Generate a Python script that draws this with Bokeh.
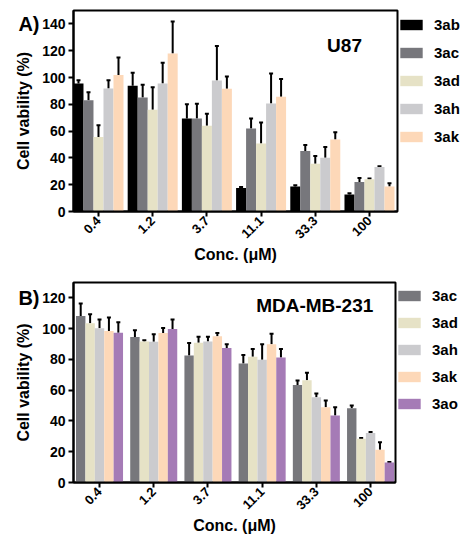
import numpy as np
from bokeh.plotting import figure
from bokeh.models import (ColumnDataSource, Range1d, FixedTicker, Whisker, TeeHead,
                          Legend, LegendItem, Label, LinearAxis)
from bokeh.layouts import column
from bokeh.embed import file_html
from bokeh.resources import INLINE

# ---------------- data ----------------
conc_labels = ["0.4", "1.2", "3.7", "11.1", "33.3", "100"]

# Panel A (U87)
a_series = ["3ab", "3ac", "3ad", "3ah", "3ak"]
a_3ab = [95.6, 93.8, 69.4, 17.5, 18.7, 12.7]
a_3ac = [83.0, 85.0, 69.4, 61.9, 45.2, 22.0]
a_3ad = [55.6, 76.0, 64.0, 50.7, 35.7, 24.0]
a_3ah = [91.8, 95.6, 97.8, 80.6, 40.2, 33.2]
a_3ak = [101.8, 118.0, 91.6, 85.6, 53.7, 18.7]
a_3ab_sd = [2.4, 9.8, 10.6, 0.7, 0.8, 1.0]
a_3ac_sd = [6.0, 9.6, 11.0, 7.5, 4.5, 3.0]
a_3ad_sd = [8.8, 16.8, 8.9, 15.7, 5.7, 0.7]
a_3ah_sd = [6.2, 15.4, 25.7, 22.4, 8.0, 0.5]
a_3ak_sd = [13.2, 23.7, 9.2, 13.2, 5.4, 2.3]

# Panel B (MDA-MB-231)
b_series = ["3ac", "3ad", "3ah", "3ak", "3ao"]
b_3ac = [108.3, 94.6, 82.6, 77.4, 63.3, 48.3]
b_3ad = [103.5, 91.7, 90.9, 81.7, 66.5, 28.5]
b_3ah = [100.2, 91.5, 91.7, 79.8, 55.4, 32.2]
b_3ak = [98.5, 97.2, 95.0, 89.8, 48.9, 21.3]
b_3ao = [97.4, 99.8, 87.4, 81.3, 43.5, 13.0]
b_3ac_sd = [8.0, 4.4, 8.1, 5.4, 3.0, 1.7]
b_3ad_sd = [5.8, 0.7, 3.9, 5.0, 4.8, 0.4]
b_3ah_sd = [5.8, 4.8, 3.1, 10.0, 2.4, 0.6]
b_3ak_sd = [8.7, 3.2, 2.2, 6.9, 4.4, 4.8]
b_3ao_sd = [6.7, 6.2, 2.4, 5.4, 5.4, 0.3]

colors = {"3ab": "#000000", "3ac": "#77777c", "3ad": "#e6e2c6",
          "3ah": "#cbcbce", "3ak": "#fdd8b8", "3ao": "#a57bb6"}

FONT = "Liberation Sans"


def make_panel(series, means, sds, ymax, yticks, bar_w, xr, frame_w, frame_h,
               min_left, min_top, min_bottom, letter, name, name_xy,
               legend_item_h):
    p = figure(output_backend="svg", toolbar_location=None,
               frame_width=frame_w, frame_height=frame_h,
               x_range=Range1d(*xr), y_range=Range1d(0, ymax),
               min_border_left=min_left, min_border_top=min_top,
               min_border_bottom=min_bottom, min_border_right=0)
    p.background_fill_color = "white"
    p.border_fill_color = "white"
    p.xgrid.visible = False
    p.ygrid.visible = False
    p.outline_line_color = "black"
    p.outline_line_width = 2
    p.outline_line_alpha = 1

    groups = np.arange(1, len(conc_labels) + 1)
    items = []
    n = len(series)
    for i, (s, m, sd) in enumerate(zip(series, means, sds)):
        xs = groups + (i - (n - 1) / 2) * bar_w
        m = np.array(m)
        up = m + np.array(sd)
        src = ColumnDataSource(dict(x=xs, top=m, upper=up))
        r = p.vbar(x="x", top="top", width=bar_w, source=src,
                   fill_color=colors[s], line_color=None)
        items.append(LegendItem(label=s, renderers=[r]))
        w = Whisker(base="x", lower="top", upper="upper", source=src,
                    line_color="black", line_width=2,
                    upper_head=TeeHead(size=4, line_width=2, line_color="black"),
                    lower_head=None)
        p.add_layout(w)

    # axes
    for ax in (p.xaxis[0], p.yaxis[0]):
        ax.axis_line_width = 2
        ax.axis_line_color = "black"
        ax.major_tick_line_width = 2
        ax.major_tick_line_color = "black"
        ax.major_tick_out = 5
        ax.major_tick_in = 0
        ax.minor_tick_line_color = None
        ax.major_label_text_font = FONT
        ax.major_label_text_font_style = "bold"
        ax.major_label_text_font_size = "14px"
        ax.major_label_text_color = "black"
        ax.axis_label_text_font = FONT
        ax.axis_label_text_font_style = "bold"
        ax.axis_label_text_font_size = "16px"
        ax.axis_label_text_color = "black"

    p.yaxis.ticker = FixedTicker(ticks=yticks)
    p.yaxis.major_label_standoff = 3

    # outer left axis: panel letter next to the top tick, plus the axis title
    top_tick = yticks[-1]
    outer = LinearAxis(ticker=FixedTicker(ticks=[top_tick]),
                       major_label_overrides={top_tick: letter},
                       axis_line_color=None, major_tick_line_color=None,
                       minor_tick_line_color=None,
                       major_label_standoff=-6,
                       major_label_text_font=FONT, major_label_text_font_style="bold",
                       major_label_text_font_size="20px", major_label_text_color="black",
                       axis_label="Cell vability (%)", axis_label_standoff=-17,
                       axis_label_text_font=FONT, axis_label_text_font_style="bold",
                       axis_label_text_font_size="16px", axis_label_text_color="black")
    p.add_layout(outer, "left")

    p.xaxis.ticker = FixedTicker(ticks=list(groups))
    p.xaxis.major_label_overrides = {int(g): lab for g, lab in zip(groups, conc_labels)}
    p.xaxis.major_label_orientation = np.pi / 4
    p.xaxis.major_label_text_font_size = "13px"
    p.xaxis.major_label_standoff = 2
    p.xaxis.axis_label = "Conc. (\u03bcM)"
    p.xaxis.axis_label_standoff = 0

    legend = Legend(items=items, location="top_left", orientation="vertical",
                    glyph_width=28, glyph_height=13, label_height=legend_item_h,
                    spacing=0, label_standoff=9, padding=4, margin=0,
                    border_line_color=None, background_fill_alpha=0,
                    label_text_font=FONT, label_text_font_style="bold",
                    label_text_font_size="15px", label_text_color="black")
    p.add_layout(legend, "right")

    p.add_layout(Label(x=name_xy[0], y=name_xy[1], text=name,
                       text_font=FONT, text_font_style="bold", text_font_size="19px",
                       text_align="center", text_baseline="middle", text_color="black"))
    return p


pA = make_panel(a_series, [a_3ab, a_3ac, a_3ad, a_3ah, a_3ak],
                [a_3ab_sd, a_3ac_sd, a_3ad_sd, a_3ah_sd, a_3ak_sd],
                150, [0, 20, 40, 60, 80, 100, 120, 140], 0.1845, (0.539, 6.517),
                324, 201, 73, 10, 56, "A)", "U87", (5.54, 124), 28)

pB = make_panel(b_series, [b_3ac, b_3ad, b_3ah, b_3ak, b_3ao],
                [b_3ac_sd, b_3ad_sd, b_3ah_sd, b_3ak_sd, b_3ao_sd],
                130, [0, 20, 40, 60, 80, 100, 120], 0.1735, (0.52, 6.46),
                322, 200, 71, 15, 48, "B)", "MDA-MB-231", (4.97, 115), 27)

layout = column(pA, pB, spacing=0)
open("out.html", "w").write(file_html(layout, INLINE))
